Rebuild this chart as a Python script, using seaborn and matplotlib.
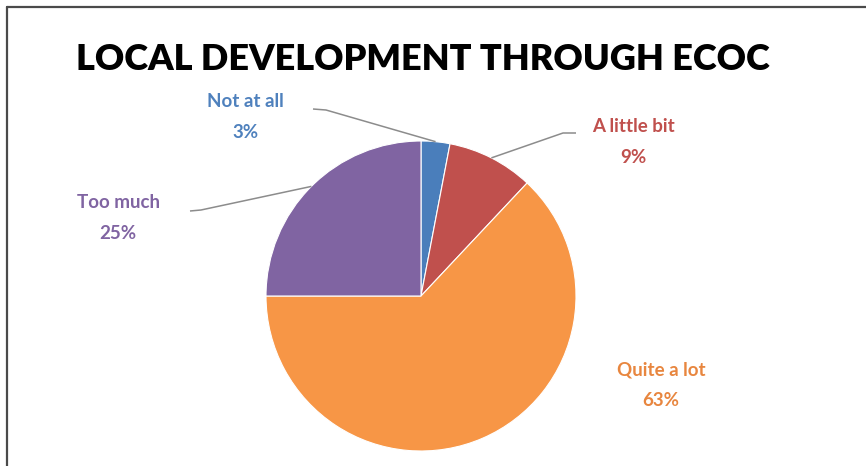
import numpy as np
import matplotlib.pyplot as plt
import seaborn as sns

# Data
categories = ["Not at all", "A little bit", "Quite a lot", "Too much"]
shares = [3, 9, 63, 25]
slice_colors = ["#4A7EBB", "#C0504D", "#F79646", "#8064A2"]
text_colors = ["#4F81BD", "#C0504D", "#E8863F", "#8064A2"]

W, H = 866, 466
CX, CY, R = 421, 296, 155   # pie centre / radius in pixels


def px(x, y):
    # pixel position -> data coords (pie radius = 1)
    return (x - CX) / R, (CY - y) / R


sns.set_theme(style="white")
plt.rcParams['font.family'] = ['Lato', 'DejaVu Sans']

fig = plt.figure(figsize=(W / 100, H / 100), dpi=100)
ax = fig.add_axes([0, 0, 1, 1])

wedges, _ = ax.pie(shares, colors=slice_colors, startangle=90, counterclock=False,
                   radius=1, center=(0, 0),
                   wedgeprops=dict(edgecolor='white', linewidth=0.8))

# pie() resets the limits, so set them afterwards
ax.set_xlim(-CX / R, (W - CX) / R)
ax.set_ylim(-(H - CY) / R, CY / R)
ax.set_aspect('equal')
ax.axis('off')

# label positions (pixels): text centre, and leader start / elbow
label_pos = {
    "Not at all": dict(text=(245, 117), lead=[(313, 109), (326, 110)]),
    "A little bit": dict(text=(633, 142), lead=[(576, 133), (563, 133)]),
    "Quite a lot": dict(text=(661, 385), lead=None),
    "Too much": dict(text=(118, 218), lead=[(190, 211), (201, 210)]),
}

for w, cat, val, tc in zip(wedges, categories, shares, text_colors):
    p = label_pos[cat]
    tx, ty = px(*p["text"])
    ax.text(tx, ty, f"{cat}\n{val}%", color=tc, fontsize=13.5, fontweight='bold',
            ha='center', va='center', linespacing=1.95)
    if p["lead"] is not None:
        mid = np.deg2rad((w.theta1 + w.theta2) / 2)
        pts = [px(*q) for q in p["lead"]] + [(np.cos(mid), np.sin(mid))]
        xs, ys = zip(*pts)
        ax.plot(xs, ys, color='#8C8C8C', linewidth=1.1, solid_capstyle='butt')

fig.text(423 / W, 1 - 60 / H, "LOCAL DEVELOPMENT THROUGH ECOC", fontsize=26,
         fontweight='heavy', color='black', ha='center', va='center')

# frame lines (top and left only)
fig.add_artist(plt.Line2D([7 / W, 1], [1 - 6.5 / H, 1 - 6.5 / H], color='#4A4A4A', linewidth=1.6))
fig.add_artist(plt.Line2D([7 / W, 7 / W], [0, 1 - 6.5 / H], color='#4A4A4A', linewidth=1.6))

fig.savefig("out.png", dpi=100, facecolor='white')
